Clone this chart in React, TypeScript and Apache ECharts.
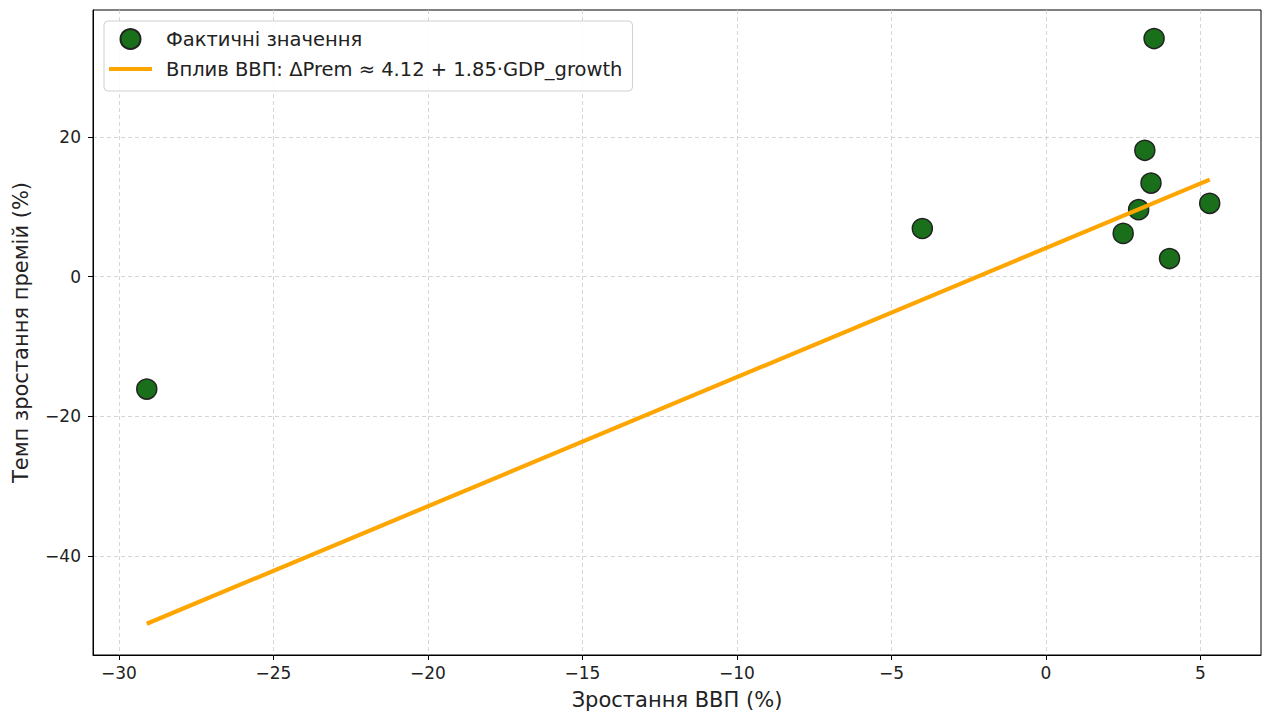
import React, { useEffect, useRef } from "react";
import * as echarts from "echarts";

const gdpGrowth = [-29.1, -4.0, 2.5, 3.0, 3.2, 3.4, 3.5, 4.0, 5.3];
const premGrowth = [-16.1, 6.9, 6.2, 9.6, 18.1, 13.4, 34.1, 2.6, 10.5];
const fitX = [-29.1, 5.3];
const fitY = [-49.7, 13.9];
const xTicks = [-30, -25, -20, -15, -10, -5, 0, 5];
const yTicks = [-40, -20, 0, 20];
const scatterName = "Фактичні значення";
const lineName = "Вплив ВВП: ΔPrem ≈ 4.12 + 1.85·GDP_growth";
const xTitle = "Зростання ВВП (%)";
const yTitle = "Темп зростання премій (%)";

const FONT = "DejaVu Sans";
const fmt = (v: number) => String(v).replace("-", "\u2212");

export default function App() {
  const ref = useRef<HTMLDivElement>(null);
  useEffect(() => {
    if (!ref.current) return;
    const chart = echarts.init(ref.current, undefined, { renderer: "svg" });
    const gridLine = { show: true, lineStyle: { color: "#cccccc", type: [4, 3], width: 0.8 } };
    chart.setOption({
      animation: false,
      backgroundColor: "#ffffff",
      textStyle: { fontFamily: FONT },
      grid: {
        left: 93, right: 6, top: 10, bottom: 60,
        show: true, borderColor: "#000", borderWidth: 1, backgroundColor: "transparent",
      },
      legend: {
        orient: "vertical",
        left: 104,
        top: 21,
        padding: [7, 10, 12, 5],
        itemGap: 9,
        itemWidth: 43,
        itemHeight: 20,
        backgroundColor: "rgba(255,255,255,0.85)",
        borderColor: "#d0d0d0",
        borderWidth: 1,
        borderRadius: 4,
        textStyle: { fontFamily: FONT, fontSize: 19.5, color: "#222", padding: [0, 0, 0, 9] },
        data: [
          { name: scatterName, icon: "circle" },
          { name: lineName, icon: "path://M0,0 L43,0 L43,4.2 L0,4.2 Z", itemStyle: { color: "#FFA500" } },
        ],
      },
      xAxis: {
        type: "value",
        min: -30.84,
        max: 6.96,
        name: xTitle,
        nameLocation: "middle",
        nameGap: 34,
        nameTextStyle: { fontFamily: FONT, fontSize: 21, color: "#222" },
        axisLine: { show: true, onZero: false, lineStyle: { color: "#000", width: 1 } },
        axisTick: { show: true, length: 5, customValues: xTicks, lineStyle: { color: "#000" } },
        axisLabel: { customValues: xTicks, formatter: fmt, fontFamily: FONT, fontSize: 17, color: "#222", margin: 9 },
        splitLine: gridLine,
      },
      yAxis: {
        type: "value",
        min: -54.18,
        max: 38.19,
        name: yTitle,
        nameLocation: "middle",
        nameGap: 62,
        nameTextStyle: { fontFamily: FONT, fontSize: 21, color: "#222" },
        axisLine: { show: true, onZero: false, lineStyle: { color: "#000", width: 1 } },
        axisTick: { show: true, length: 5, customValues: yTicks, lineStyle: { color: "#000" } },
        axisLabel: { customValues: yTicks, formatter: fmt, fontFamily: FONT, fontSize: 17, color: "#222", margin: 12 },
        splitLine: gridLine,
      },
      series: [
        {
          name: scatterName,
          type: "scatter",
          symbol: "circle",
          symbolSize: 20,
          z: 2,
          itemStyle: { color: "#1a701a", opacity: 1, borderColor: "#222", borderWidth: 1.5 },
          data: gdpGrowth.map((x, i) => [x, premGrowth[i]]),
        },
        {
          name: lineName,
          type: "line",
          symbol: "none",
          z: 3,
          lineStyle: { color: "#FFA500", width: 4.2 },
          itemStyle: { color: "#FFA500" },
          data: fitX.map((x, i) => [x, fitY[i]]),
        },
      ],
    });
    return () => chart.dispose();
  }, []);
  return <div ref={ref} style={{ width: 1267, height: 715, position: "absolute", left: 0, top: 0 }} />;
}
